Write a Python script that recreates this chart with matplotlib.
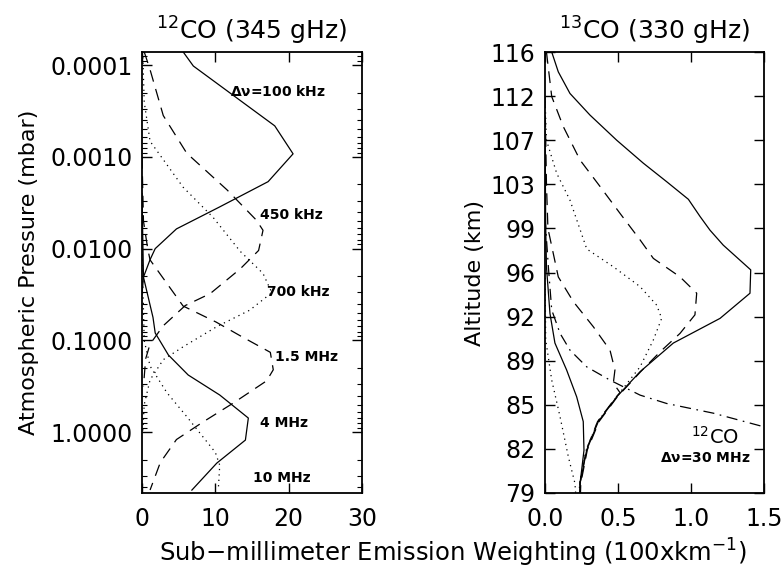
import numpy as np
import matplotlib
matplotlib.use("Agg")
import matplotlib.pyplot as plt
from matplotlib.ticker import FixedLocator, FuncFormatter, NullLocator

plt.rcParams['font.family'] = ['DejaVu Sans']
plt.rcParams['lines.scale_dashes'] = False

# ---------------- Left panel: 12CO (345 GHz), weighting vs pressure (mbar) -------------
w100k_x = [5.6, 7.0, 18.1, 20.6, 17.2, 10.6, 4.7, 1.8, 1.1, 0.2, 0.0]
w100k_p = [10**v for v in [-4.145, -3.99, -3.338, -3.033, -2.73, -2.455, -2.215, -2.0, -1.88, -1.69, -1.5]]

w450k_x = [0.3, 1.1, 2.9, 6.1, 11.6, 15.6, 16.5, 15.9, 13.4, 9.3, 5.9, 2.9, 1.1, 0.5, 0.2]
w450k_p = [10**v for v in [-4.145, -3.95, -3.45, -3.04, -2.64, -2.31, -2.2, -1.98, -1.78, -1.51, -1.38, -1.16, -0.96, -0.8, -0.5]]

w700k_x = [0.1, 0.3, 1.1, 5.6, 9.7, 13.4, 16.5, 17.7, 14.7, 10.2, 5.6, 2.9, 1.1, 0.3, 0.1]
w700k_p = [10**v for v in [-4.145, -3.6, -3.17, -2.67, -2.34, -1.97, -1.73, -1.52, -1.33, -1.15, -0.93, -0.79, -0.57, -0.3, 0.0]]

w1p5m_x = [0.0, 0.2, 0.8, 1.1, 5.6, 10.1, 13.4, 17.5, 17.9, 17.0, 12.5, 8.3, 4.7, 2.5, 1.1]
w1p5m_p = [10**v for v in [-3.0, -2.3, -1.99, -1.877, -1.375, -1.2, -1.05, -0.87, -0.68, -0.56, -0.32, -0.11, 0.08, 0.33, 0.63]]

w4m_x = [0.0, 0.2, 1.5, 1.8, 3.6, 6.3, 10.6, 14.5, 14.1, 10.2, 6.8]
w4m_p = [10**v for v in [-2.6, -1.69, -1.25, -1.081, -0.841, -0.623, -0.405, -0.154, 0.086, 0.337, 0.631]]

w10m_x = [0.0, 0.3, 1.1, 3.4, 6.1, 10.0, 10.6, 10.4]
w10m_p = [10**v for v in [-2.0, -1.0, -0.72, -0.43, -0.17, 0.22, 0.36, 0.63]]

left_labels = ['$\\mathbf{\\Delta\\nu}$=100 kHz', '450 kHz', '700 kHz', '1.5 MHz', '4 MHz', '10 MHz']
left_label_x = [12.0, 16.1, 17.0, 18.1, 16.1, 15.2]
left_label_p = [10**v for v in [-3.709, -2.367, -1.531, -0.822, -0.096, 0.504]]

left_yticks = [0.0001, 0.001, 0.01, 0.1, 1.0]
left_xticks = [0, 10, 20, 30]

# ---------------- Right panel: 13CO (330 GHz), weighting vs altitude (km) --------------
alt_ticks = [116, 112, 107, 103, 99, 96, 92, 89, 85, 82, 79]

r100k_x = [0.046, 0.091, 0.171, 0.308, 0.491, 0.673, 0.833, 0.982, 1.062, 1.13, 1.221, 1.409, 1.404, 1.199, 0.879, 0.651, 0.491, 0.365, 0.286, 0.240, 0.238]
r100k_a = [116.0, 114.2, 112.24, 109.85, 107.0, 104.92, 103.24, 101.64, 100.08, 98.88, 97.86, 96.18, 94.12, 91.88, 90.2, 88.0, 85.72, 83.86, 81.94, 79.66, 79.0]

r450k_x = [0.01, 0.046, 0.125, 0.24, 0.377, 0.514, 0.651, 0.742, 0.925, 1.039, 1.027, 0.925, 0.788, 0.655, 0.495, 0.37, 0.29, 0.245, 0.243]
r450k_a = [116.0, 111.95, 108.55, 105.2, 102.8, 100.36, 98.22, 96.96, 95.6, 94.12, 92.16, 90.86, 89.6, 88.0, 85.72, 83.86, 81.94, 79.66, 79.0]

r700k_x = [0.0, 0.01, 0.08, 0.171, 0.286, 0.468, 0.651, 0.765, 0.799, 0.742, 0.651, 0.49, 0.362, 0.283, 0.237, 0.235]
r700k_a = [112.0, 107.0, 104.0, 101.56, 97.6, 96.39, 94.72, 93.04, 91.88, 90.41, 88.44, 85.72, 83.86, 81.94, 79.66, 79.0]

r1p5m_x = [0.0, 0.01, 0.02, 0.091, 0.194, 0.331, 0.445, 0.479, 0.468, 0.514, 0.488, 0.36, 0.283, 0.24, 0.238]
r1p5m_a = [112.0, 103.0, 99.0, 95.6, 93.36, 91.31, 89.72, 88.16, 86.96, 86.1, 85.72, 83.86, 81.94, 79.66, 79.0]

r4m_x = [0.0, 0.005, 0.01, 0.034, 0.068, 0.148, 0.217, 0.262, 0.267, 0.251, 0.24, 0.24]
r4m_a = [108.0, 99.0, 96.39, 92.28, 90.2, 88.16, 85.72, 83.86, 81.91, 80.56, 79.66, 79.0]

r10m_x = [0.0, 0.005, 0.046, 0.103, 0.16, 0.205, 0.21]
r10m_a = [96.0, 90.41, 87.24, 84.19, 81.46, 79.66, 79.0]

r12co_x = [0.0, 0.023, 0.046, 0.103, 0.171, 0.286, 0.445, 0.651, 0.833, 1.153, 1.5]
r12co_a = [100.0, 96.39, 92.6, 90.86, 89.72, 88.44, 87.24, 85.88, 85.12, 84.43, 83.5]

right_xticks = [0.0, 0.5, 1.0, 1.5]

# ---------------- styles ----------------
LW = 0.9
SOLID = dict(color='black', lw=LW, ls='-')
DASH = dict(color='black', lw=LW, ls=(0, (8.5, 5.5)))
DOT = dict(color='black', lw=LW, ls=(0, (0.9, 3.0)))
DASHDOT = dict(color='black', lw=LW, ls=(0, (8, 4, 1.2, 4)))

TICK_FS = 17
fig = plt.figure(figsize=(7.84, 5.73), dpi=100)
axL = fig.add_axes([142/784, 1 - 493/573, 220/784, 441/573])
axR = fig.add_axes([545/784, 1 - 493/573, 219/784, 441/573])

# Left panel
for xs, ps, st in [(w100k_x, w100k_p, SOLID), (w450k_x, w450k_p, DASH), (w700k_x, w700k_p, DOT),
                   (w1p5m_x, w1p5m_p, DASH), (w4m_x, w4m_p, SOLID), (w10m_x, w10m_p, DOT)]:
    axL.plot(xs, ps, **st)
axL.set_yscale('log')
axL.set_ylim(4.6, 7.2e-5)
axL.set_xlim(0, 30)
axL.yaxis.set_major_locator(FixedLocator(left_yticks))
axL.yaxis.set_major_formatter(FuncFormatter(lambda v, p: f'{v:.4f}'))
axL.set_xticks(left_xticks)
axL.set_xticklabels([str(v) for v in left_xticks])
for lab, lx, lp in zip(left_labels, left_label_x, left_label_p):
    axL.text(lx, lp, lab, fontsize=10, fontweight='bold', ha='left', va='center')
axL.set_title('$^{12}$CO (345 gHz)', fontsize=18, pad=9)
axL.set_ylabel('Atmospheric Pressure (mbar)', fontsize=16, labelpad=8)

# Right panel: altitude axis with levels evenly spaced between labelled altitudes
idx = np.arange(len(alt_ticks), dtype=float)
alt_inc = np.array(alt_ticks[::-1], dtype=float)
idx_inc = idx[::-1]

def fwd(a):
    a = np.asarray(a, dtype=float)
    k = np.interp(a, alt_inc, idx_inc)
    k = np.where(a < 79, 10 + (79 - a) / 3.0, k)
    k = np.where(a > 116, (116 - a) / 4.0, k)
    return k

def inv(k):
    k = np.asarray(k, dtype=float)
    a = np.interp(k, idx, np.array(alt_ticks, dtype=float))
    a = np.where(k > 10, 79 - (k - 10) * 3.0, a)
    a = np.where(k < 0, 116 - k * 4.0, a)
    return a

axR.set_yscale('function', functions=(fwd, inv))
for xs, as_, st in [(r100k_x, r100k_a, SOLID), (r450k_x, r450k_a, DASH), (r700k_x, r700k_a, DOT),
                    (r1p5m_x, r1p5m_a, DASH), (r4m_x, r4m_a, SOLID), (r10m_x, r10m_a, DOT),
                    (r12co_x, r12co_a, DASHDOT)]:
    axR.plot(xs, as_, **st)
axR.set_ylim(116, 79)
axR.set_xlim(0, 1.5)
axR.yaxis.set_major_locator(FixedLocator(alt_ticks))
axR.yaxis.set_major_formatter(FuncFormatter(lambda v, p: f'{v:.0f}'))
axR.yaxis.set_minor_locator(NullLocator())
axR.set_xticks(right_xticks)
axR.set_xticklabels([f'{v:.1f}' for v in right_xticks])
axR.text(1.164, 82.85, '$^{12}$CO', fontsize=14, ha='center', va='center')
axR.text(1.096, 81.37, '$\\mathbf{\\Delta\\nu}$=30 MHz', fontsize=10, fontweight='bold', ha='center', va='center')
axR.set_title('$^{13}$CO (330 gHz)', fontsize=18, pad=9)
axR.set_ylabel('Altitude (km)', fontsize=16, labelpad=4)

for ax in (axL, axR):
    for s in ax.spines.values():
        s.set_linewidth(1.3)
    ax.tick_params(which='major', direction='in', length=7, width=1.0, top=True, right=True,
                   labelsize=TICK_FS, pad=7)
    ax.tick_params(which='minor', direction='in', length=3.5, width=0.8, top=True, right=True)
    ax.tick_params(axis='x', pad=10)
axL.xaxis.set_minor_locator(NullLocator())
axR.xaxis.set_minor_locator(NullLocator())

fig.text(453/784, 1 - 553/573, 'Sub\u2212millimeter Emission Weighting (100xkm$^{-1}$)',
         fontsize=17.5, ha='center', va='center')

fig.savefig('out.png', dpi=100)
